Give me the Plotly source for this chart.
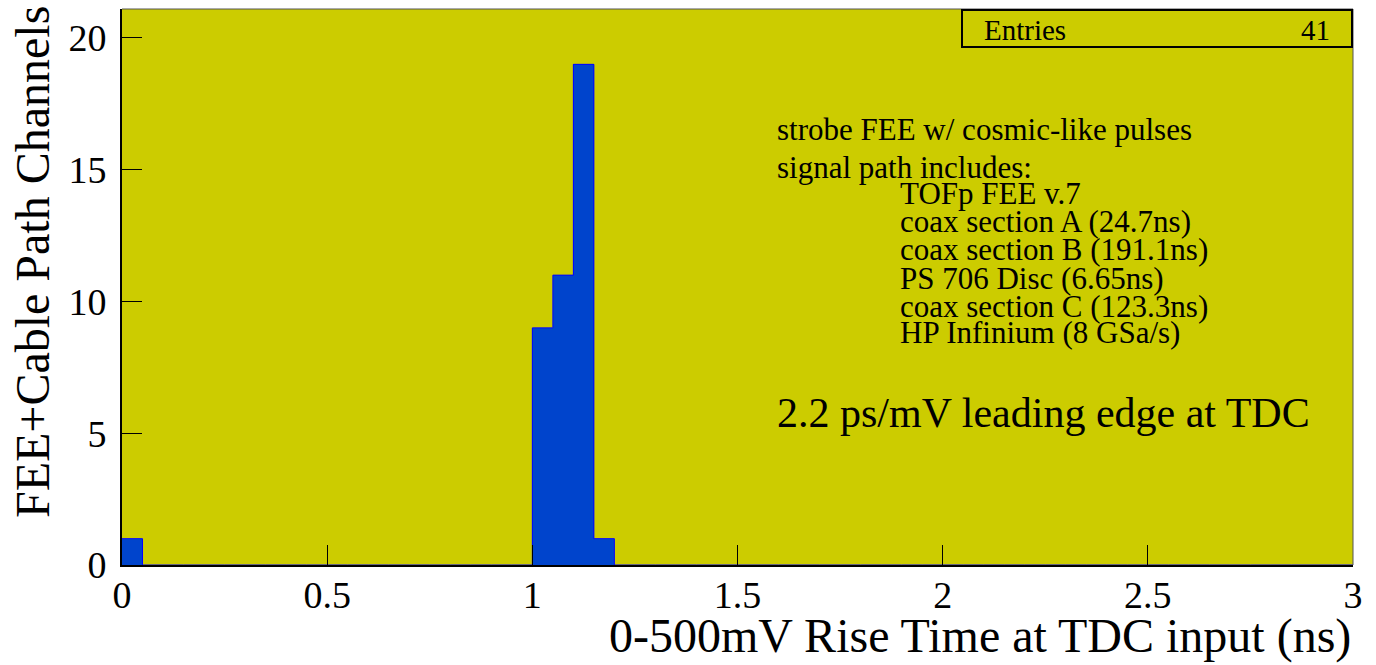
import plotly.graph_objects as go

# Histogram contents: 60 bins of 0.05 ns from 0 to 3 ns, non-empty bins listed
n_bins = 60
x_min, x_max = 0.0, 3.0
filled_bins = [0, 20, 21, 22, 23]
bin_counts = [1, 9, 11, 19, 1]

x_ticks = [0, 0.5, 1, 1.5, 2, 2.5, 3]
x_tick_text = ["0", "0.5", "1", "1.5", "2", "2.5", "3"]
y_ticks = [0, 5, 10, 15, 20]

note_lines = [
    "strobe FEE w/ cosmic-like pulses",
    "signal path includes:",
]
path_items = [
    "TOFp FEE v.7",
    "coax section A (24.7ns)",
    "coax section B (191.1ns)",
    "PS 706 Disc (6.65ns)",
    "coax section C (123.3ns)",
    "HP Infinium (8 GSa/s)",
]
headline = "2.2 ps/mV leading edge at TDC"

SERIF = "Liberation Serif, Times New Roman, serif"
W, H = 1376, 665
L, R, T, B = 122, 23, 9, 100
PW, PH = W - L - R, H - T - B


def px(xp):
    return (xp - L) / PW


def py(yp):
    return (H - B - yp) / PH


bin_width = (x_max - x_min) / n_bins
contents = [0] * n_bins
for i, c in zip(filled_bins, bin_counts):
    contents[i] = c
entries = sum(bin_counts)
edges = [x_min + i * bin_width for i in range(n_bins + 1)]

fig = go.Figure()
# filled bins
fig.add_trace(go.Bar(
    x=[edges[i] + bin_width / 2 for i in filled_bins],
    y=bin_counts,
    width=bin_width,
    marker=dict(color="#0044cc", line=dict(width=0)),
    showlegend=False,
    hoverinfo="x+y",
))
# histogram outline drawn as a step line
fig.add_trace(go.Scatter(
    x=edges,
    y=contents + [contents[-1]],
    mode="lines",
    line=dict(color="#0000ff", width=1, shape="hv"),
    showlegend=False,
    hoverinfo="skip",
))

fig.update_layout(
    width=W, height=H,
    margin=dict(l=L, r=R, t=T, b=B),
    paper_bgcolor="white",
    plot_bgcolor="#cccc00",
    bargap=0,
    font=dict(family=SERIF, color="black"),
    xaxis=dict(
        range=[x_min, x_max], tickvals=x_ticks, ticktext=x_tick_text,
        ticks="inside", ticklen=20, tickcolor="black", tickwidth=1,
        showline=True, linecolor="black", linewidth=2,
        showgrid=False, zeroline=False,
        tickfont=dict(family=SERIF, size=38),
        ticklabelstandoff=-5,
    ),
    yaxis=dict(
        range=[0, 21.1], tickvals=y_ticks,
        ticks="inside", ticklen=20, tickcolor="black", tickwidth=1,
        showline=True, linecolor="black", linewidth=2,
        showgrid=False, zeroline=False,
        tickfont=dict(family=SERIF, size=38),
        ticklabelstandoff=6,
    ),
)

# top and right frame edges
fig.add_shape(type="line", xref="paper", yref="paper", x0=0, x1=1, y0=1, y1=1,
              line=dict(color="#555555", width=1))
fig.add_shape(type="line", xref="paper", yref="paper", x0=1, x1=1, y0=0, y1=1,
              line=dict(color="#555555", width=1))

# statistics box
fig.add_shape(type="rect", xref="paper", yref="paper",
              x0=px(962), x1=px(1352), y0=py(47), y1=py(10),
              line=dict(color="black", width=2), fillcolor="#cccc00")
fig.add_annotation(text="Entries", xref="paper", yref="paper",
                   x=px(982), y=py(30), xanchor="left", yanchor="middle",
                   showarrow=False, font=dict(family=SERIF, size=29))
fig.add_annotation(text=str(entries), xref="paper", yref="paper",
                   x=px(1332), y=py(30), xanchor="right", yanchor="middle",
                   showarrow=False, font=dict(family=SERIF, size=29))

# axis titles
fig.add_annotation(text="FEE+Cable Path Channels", xref="paper", yref="paper",
                   x=px(32), y=py(262), xanchor="center", yanchor="middle",
                   textangle=-90, showarrow=False,
                   font=dict(family=SERIF, size=48))
fig.add_annotation(text="0-500mV Rise Time at TDC input (ns)", xref="paper", yref="paper",
                   x=1, y=py(636), xanchor="right", yanchor="middle",
                   showarrow=False, font=dict(family=SERIF, size=48))

# descriptive text
note_y = [129, 167]
for line, yp in zip(note_lines, note_y):
    fig.add_annotation(text=line, xref="paper", yref="paper",
                       x=px(775), y=py(yp), xanchor="left", yanchor="middle",
                       showarrow=False, font=dict(family=SERIF, size=31))
item_y = [193, 222, 250, 278, 306, 333]
for line, yp in zip(path_items, item_y):
    fig.add_annotation(text=line, xref="paper", yref="paper",
                       x=px(898), y=py(yp), xanchor="left", yanchor="middle",
                       showarrow=False, font=dict(family=SERIF, size=31))
fig.add_annotation(text=headline, xref="paper", yref="paper",
                   x=px(775), y=py(413), xanchor="left", yanchor="middle",
                   showarrow=False, font=dict(family=SERIF, size=42))

fig.write_html("out.html")
